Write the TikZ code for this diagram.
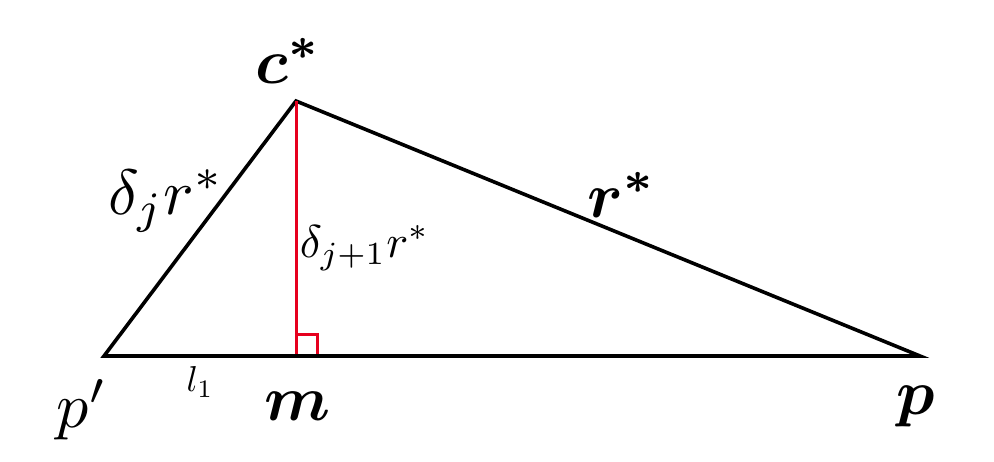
\documentclass[tikz,border=0pt]{standalone}
\usepackage{amsmath,bm}
\definecolor{myred}{RGB}{230,0,30}
\begin{document}
\begin{tikzpicture}[x=1pt,y=1pt,
  edge/.style={line width=3.6pt,black},
  redline/.style={line width=3pt,myred},
  lab/.style={inner sep=0pt,scale=6.4,transform shape},
  smalllab/.style={inner sep=0pt,scale=4.6,transform shape},
  tinylab/.style={inner sep=0pt,scale=3.6,transform shape}]
\useasboundingbox[fill=white] (0,0) rectangle (994,461);
\coordinate (pp) at (104,105);
\coordinate (c) at (296,360);
\coordinate (p) at (920,105);
\coordinate (m) at (296,105);
\draw[edge,line join=miter] (pp) -- (c) -- (p) -- cycle;
\draw[redline] (c) -- (m);
\draw[redline] ([yshift=21pt]m) -- ++(21,0) -- ++(0,-21);
\draw[edge] (pp) -- (p);
\node[lab] (lc) at (288,400) {$\bm{c^{*}}$};
\node[lab] (ldj) at (166,260) {$\delta_{j}r^{*}$};
\node[lab] (lr) at (622,266) {$\bm{r^{*}}$};
\node[smalllab,anchor=west] (ldj1) at (299,213) {$\delta_{j+1}r^{*}$};
\node[lab] (lpp) at (82,51) {$p'$};
\node[tinylab] (ll) at (200,79) {$l_1$};
\node[lab] (lm) at (298,55) {$\bm{m}$};
\node[lab] (lp) at (916,55) {$\bm{p}$};
\end{tikzpicture}
\end{document}
